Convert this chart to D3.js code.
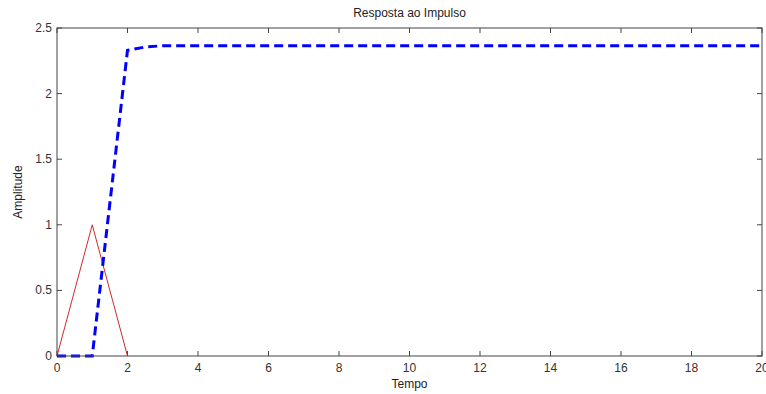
<!DOCTYPE html>
<html><head><meta charset="utf-8">
<script src="https://cdn.jsdelivr.net/npm/d3@7"></script>
<style>body{margin:0;background:#fff}svg{display:block}text{font-family:Arial,"Liberation Sans",sans-serif}</style>
</head><body><svg id="c" width="766" height="394"></svg>
<script>
const title = "Resposta ao Impulso";
const xLabel = "Tempo";
const yLabel = "Amplitude";
const xTicks = [0,2,4,6,8,10,12,14,16,18,20];
const yTicks = [0,0.5,1,1.5,2,2.5];
const timeBlue = [0,1,2,2.5,3,4,5,6,7,8,9,10,11,12,13,14,15,16,17,18,19,20];
const blueValues = [0,0,2.33,2.355,2.365,2.365,2.365,2.365,2.365,2.365,2.365,2.365,2.365,2.365,2.365,2.365,2.365,2.365,2.365,2.365,2.365,2.365];
const timeRed = [0,1,2];
const redValues = [0,1,0];

const svg = d3.select("#c");
const m = {l:57, r:762, t:28, b:356};
const x = d3.scaleLinear().domain([0,20]).range([m.l,m.r]);
const y = d3.scaleLinear().domain([0,2.5]).range([m.b,m.t]);
const axisCol = "#444";
const tl = 5;

const g = svg.append("g");
// ticks (inside, mirrored)
xTicks.forEach(t=>{
  g.append("line").attr("x1",x(t)).attr("x2",x(t)).attr("y1",m.b).attr("y2",m.b-tl).attr("stroke",axisCol);
  g.append("line").attr("x1",x(t)).attr("x2",x(t)).attr("y1",m.t).attr("y2",m.t+tl).attr("stroke",axisCol);
  g.append("text").attr("x",x(t)).attr("y",m.b+16).attr("text-anchor","middle").attr("font-size",12).attr("fill","#333").text(t);
});
yTicks.forEach(t=>{
  g.append("line").attr("x1",m.l).attr("x2",m.l+tl).attr("y1",y(t)).attr("y2",y(t)).attr("stroke",axisCol);
  g.append("line").attr("x1",m.r).attr("x2",m.r-tl).attr("y1",y(t)).attr("y2",y(t)).attr("stroke",axisCol);
  g.append("text").attr("x",m.l-5).attr("y",y(t)+4).attr("text-anchor","end").attr("font-size",12).attr("fill","#333").text(t);
});

const line = d3.line().x(d=>x(d[0])).y(d=>y(d[1]));
svg.append("path").datum(timeRed.map((t,i)=>[t,redValues[i]]))
  .attr("d",line).attr("fill","none").attr("stroke","#cc2a2a").attr("stroke-width",1);
svg.append("path").datum(timeBlue.map((t,i)=>[t,blueValues[i]]))
  .attr("d",line).attr("fill","none").attr("stroke","#0000ff").attr("stroke-width",3).attr("stroke-dasharray","9,5");

svg.append("rect").attr("x",m.l).attr("y",m.t).attr("width",m.r-m.l).attr("height",m.b-m.t)
  .attr("fill","none").attr("stroke",axisCol).attr("stroke-width",1);

svg.append("text").attr("x",(m.l+m.r)/2).attr("y",17).attr("text-anchor","middle").attr("font-size",12).attr("fill","#222").text(title);
svg.append("text").attr("x",(m.l+m.r)/2).attr("y",388).attr("text-anchor","middle").attr("font-size",12).attr("fill","#222").text(xLabel);
svg.append("text").attr("transform",`translate(22,${(m.t+m.b)/2}) rotate(-90)`).attr("text-anchor","middle").attr("font-size",12).attr("fill","#222").text(yLabel);
</script></body></html>
